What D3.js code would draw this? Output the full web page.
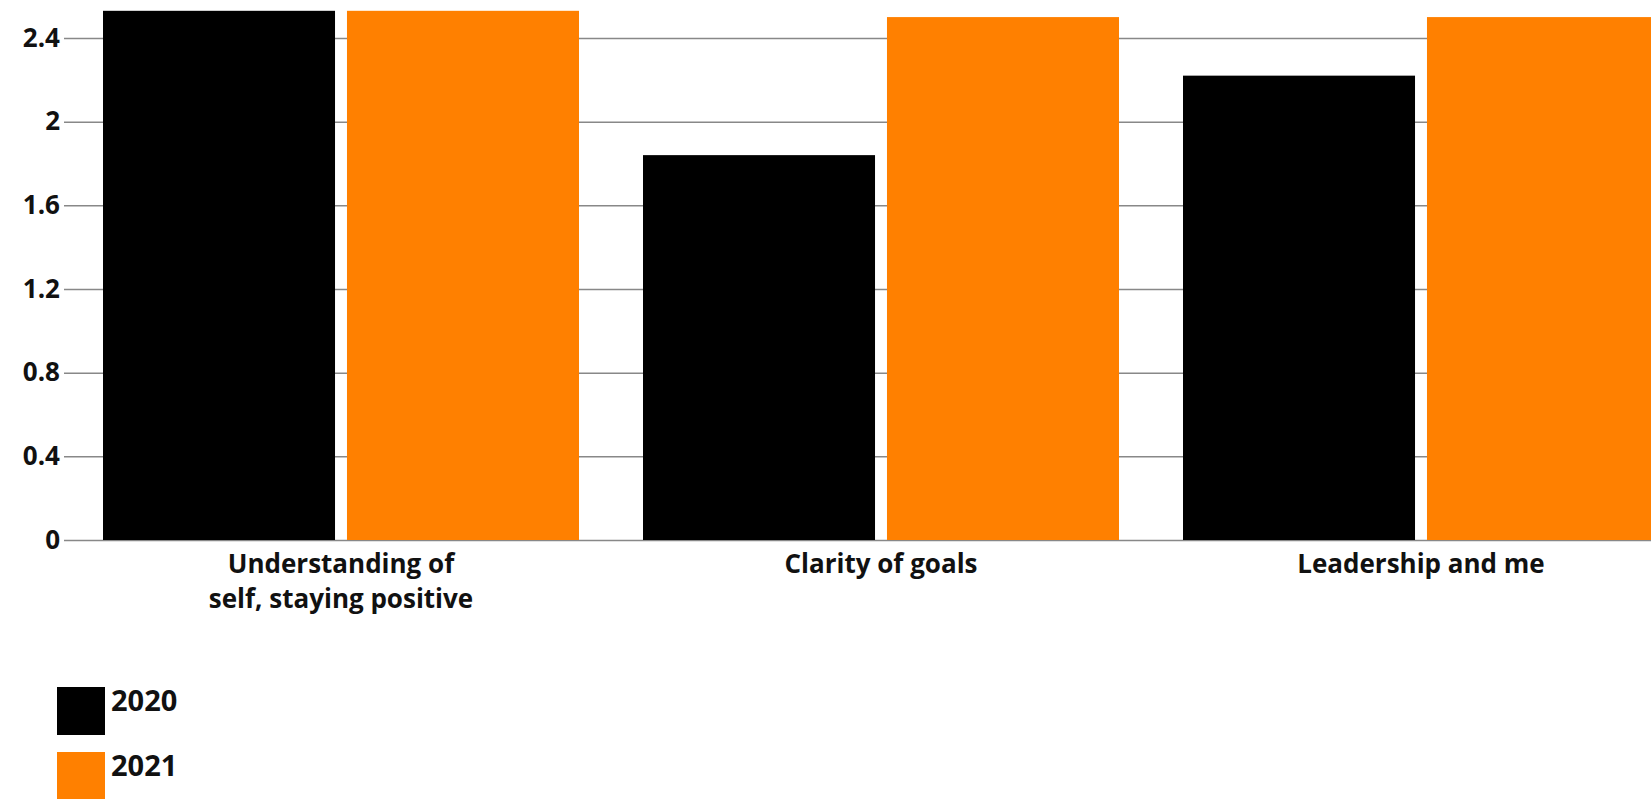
<!DOCTYPE html>
<html>
<head>
<meta charset="utf-8">
<script src="https://cdn.jsdelivr.net/npm/d3@7"></script>
<style>
  html, body { margin: 0; padding: 0; background: #fff; }
  svg { display: block; font-family: "Open Sans", sans-serif; font-weight: 700; }
</style>
</head>
<body>
<div id="chart"></div>
<script>
var categories = [["Understanding of", "self, staying positive"], ["Clarity of goals"], ["Leadership and me"]];
var years = ["2020", "2021"];
var values2020 = [2.53, 1.84, 2.22];
var values2021 = [2.53, 2.50, 2.50];
var yTicks = [0, 0.4, 0.8, 1.2, 1.6, 2, 2.4];

var width = 1651;
var height = 799;
var colors = { "2020": "#000000", "2021": "#ff8000" };

var svg = d3.select("#chart").append("svg")
    .attr("width", width)
    .attr("height", height);

var catKeys = categories.map(function (c) { return c.join(" "); });

var y = d3.scaleLinear()
    .domain([0, 2.4])
    .range([540, 38]);

// 3 groups, one every 540px, first bar starts at 103
var x0 = d3.scaleBand()
    .domain(catKeys)
    .range([71, 71 + 1620])
    .paddingInner(64 / 540)
    .paddingOuter(32 / 540);

var x1 = d3.scaleBand()
    .domain(years)
    .range([0, x0.bandwidth()])
    .paddingInner(0.049);

// gridlines + tick labels
var yAxis = d3.axisLeft(y)
    .tickValues(yTicks)
    .tickSize(-(width - 64))
    .tickPadding(4)
    .tickFormat(function (d) { return d3.format("")(d); });

var gy = svg.append("g")
    .attr("transform", "translate(64,0)")
    .call(yAxis);
gy.select(".domain").remove();
gy.selectAll(".tick line")
    .attr("stroke", "#888")
    .attr("stroke-width", 1.5);
gy.selectAll(".tick text")
    .attr("fill", "#111")
    .attr("font-size", "26px")
    .attr("font-family", "Open Sans, sans-serif")
    .attr("font-weight", 700);

var rows = categories.map(function (c, i) {
    return { key: catKeys[i], lines: c, vals: { "2020": values2020[i], "2021": values2021[i] } };
});

var groups = svg.selectAll(".grp")
    .data(rows)
    .enter()
    .append("g")
    .attr("class", "grp")
    .attr("transform", function (d) { return "translate(" + x0(d.key) + ",0)"; });

groups.selectAll("rect")
    .data(function (d) {
        return years.map(function (yr) { return { year: yr, value: d.vals[yr] }; });
    })
    .enter()
    .append("rect")
    .attr("x", function (d) { return x1(d.year); })
    .attr("y", function (d) { return y(d.value); })
    .attr("width", x1.bandwidth())
    .attr("height", function (d) { return y(0) - y(d.value); })
    .attr("fill", function (d) { return colors[d.year]; });

// category labels (one text per line)
var labelLines = [];
rows.forEach(function (r) {
    r.lines.forEach(function (line, i) {
        labelLines.push({ key: r.key, text: line, row: i });
    });
});

svg.selectAll(".cat")
    .data(labelLines)
    .enter()
    .append("text")
    .attr("class", "cat")
    .attr("x", function (d) { return x0(d.key) + x0.bandwidth() / 2; })
    .attr("y", function (d) { return 573 + d.row * 35; })
    .attr("text-anchor", "middle")
    .attr("font-size", "26px")
    .attr("fill", "#111")
    .text(function (d) { return d.text; });

// legend
var legend = svg.selectAll(".leg")
    .data(years)
    .enter()
    .append("g")
    .attr("class", "leg")
    .attr("transform", function (d, i) { return "translate(57," + (687 + i * 65) + ")"; });

legend.append("rect")
    .attr("width", 48)
    .attr("height", 48)
    .attr("fill", function (d) { return colors[d]; });

legend.append("text")
    .attr("x", 54)
    .attr("y", 24)
    .attr("font-size", "29px")
    .attr("fill", "#111")
    .text(function (d) { return d; });
</script>
</body>
</html>
